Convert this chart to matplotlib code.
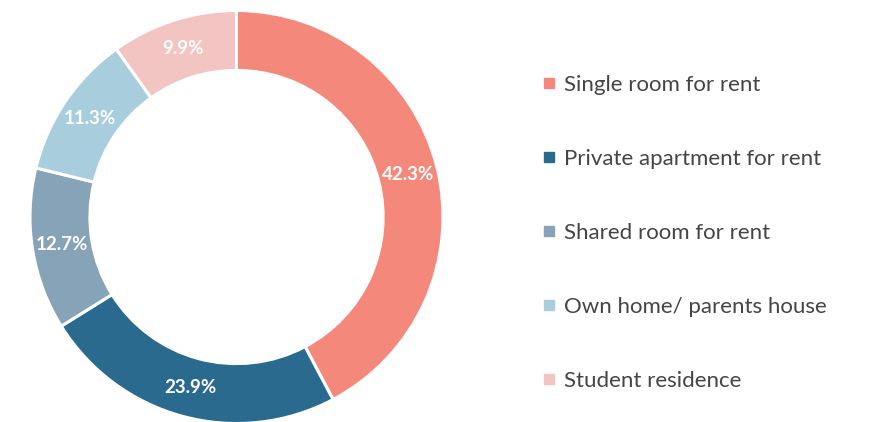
import matplotlib
matplotlib.use("Agg")
import matplotlib.pyplot as plt
from matplotlib.lines import Line2D
import numpy as np

categories = ["Single room for rent", "Private apartment for rent", "Shared room for rent",
              "Own home/ parents house", "Student residence"]
values = [42.3, 23.9, 12.7, 11.3, 9.9]
colors = ["#F4897B", "#2B6A8F", "#86A3B8", "#A8CEDD", "#F2C4C2"]

plt.rcParams['font.family'] = ['Lato', 'DejaVu Sans']

W, H = 874, 422
fig = plt.figure(figsize=(W / 100, H / 100), dpi=100)
cx, cy, R = 236.5, 217, 206.5
ax = fig.add_axes([(cx - R) / W, (H - cy - R) / H, 2 * R / W, 2 * R / H])
wedges, _ = ax.pie(values, colors=colors, startangle=90, counterclock=False,
                   radius=1, wedgeprops=dict(width=0.29, edgecolor='white', linewidth=2.2))
for v, w in zip(values, wedges):
    mid = np.deg2rad((w.theta1 + w.theta2) / 2)
    r = 0.855
    ax.text(r * np.cos(mid), r * np.sin(mid), f"{v:.1f}%", ha='center', va='center',
            color='white', fontsize=13.5, fontweight='bold')
ax.set_xlim(-1, 1)
ax.set_ylim(-1, 1)
ax.set_aspect('equal')
ax.axis('off')

handles = [Line2D([], [], marker='s', linestyle='none', markersize=6.5, color=c) for c in colors]
leg = fig.legend(handles, categories, loc='upper left', bbox_to_anchor=(542 / W, 1 - 75 / H),
                 frameon=False, fontsize=16, labelspacing=2.425, handlelength=0.6,
                 handletextpad=0.38, borderaxespad=0, borderpad=0)
for t in leg.get_texts():
    t.set_color('#454545')

fig.savefig("out.png", dpi=100)
